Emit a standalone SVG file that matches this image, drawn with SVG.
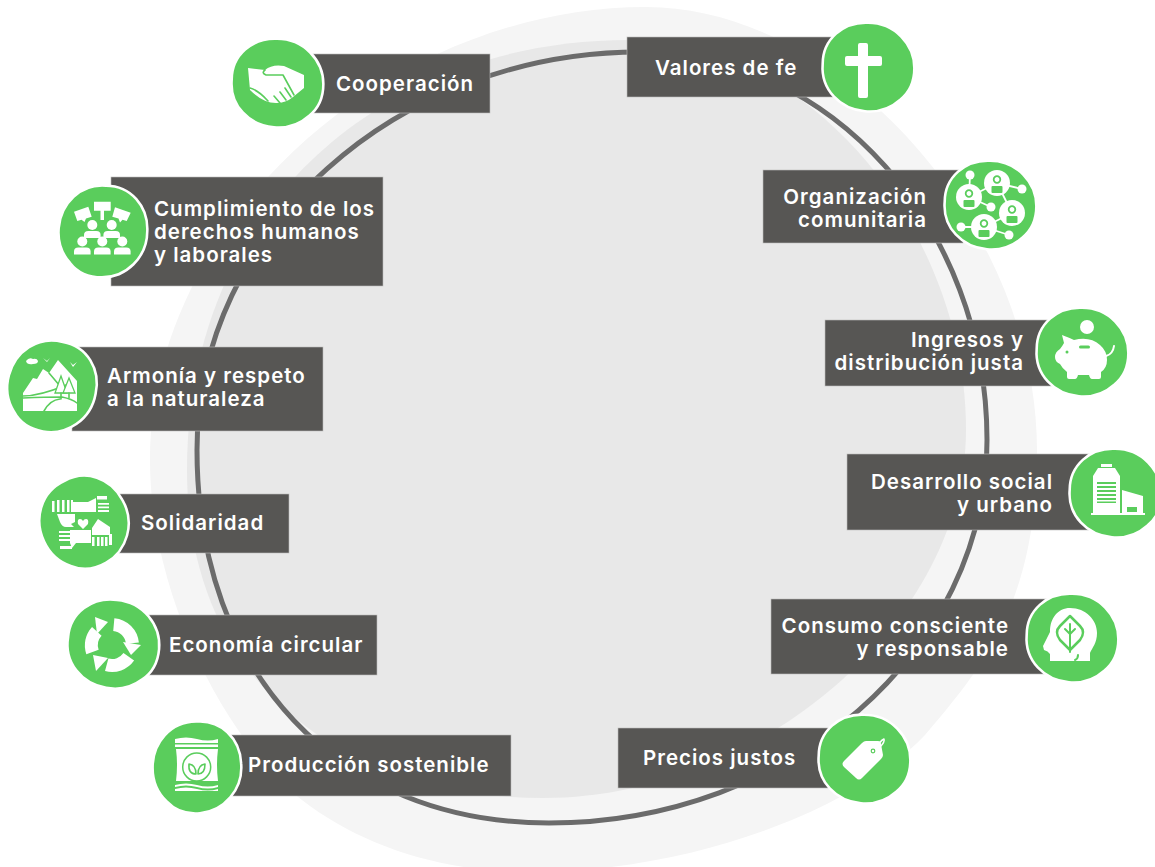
<svg xmlns="http://www.w3.org/2000/svg" width="1155" height="867" viewBox="0 0 1155 867">
<style>
.box{fill:#575654;stroke:#bdbdbb;stroke-width:.6}
.blob{fill:#5acd5c;stroke:#fff;stroke-width:2.500}
.i{fill:#fff;stroke:none}
.g{fill:#5acd5c;stroke:none}
.gl{fill:none;stroke:#5acd5c;stroke-width:1.600;stroke-linecap:round;stroke-linejoin:round}
.wl{fill:none;stroke:#fff;stroke-linecap:round;stroke-linejoin:round}
text{font-family:"Inter","Liberation Sans",sans-serif;font-weight:600;font-size:20.500px;fill:#fff;letter-spacing:1px}
.e{text-anchor:end}
</style>
<defs>
<path id="blob" d="M-44,-3C-44,-27 -24,-44 0,-43C26,-43 45,-22 45,1C45,14 40,25 31,32C21,41 8,44 -3,43C-27,41 -46,22 -44,-3Z"/>
<g id="person"><circle cx="0" cy="-6" r="5"/><path d="M-8.300,7V4Q-8.300,0 -4,0H4Q8.300,0 8.300,4V7Z"/></g>
<g id="netp"><circle class="i" r="13"/><circle cx="0" cy="-3.500" r="3.300" fill="none" stroke="#5acd5c" stroke-width="1.800"/><rect x="-5.500" y="3" width="11" height="7" rx="1" class="g"/></g>
</defs>
<g id="background">
<path fill="#f5f5f5" d="M646,7C841,7 1037,228 1037,450C1037,600 985,665 925,735C860,805 700,872 530,872C440,872 360,845 302,800C230,745 150,600 150,460C150,220 390,7 646,7Z"/>
<path fill="#e8e8e8" d="M629,40C810,40 966,230 966,430C966,620 760,798 543,798C340,798 187,680 187,470C187,200 390,40 629,40Z"/>
</g>
<g id="connectors">
<path fill="none" stroke="#6b6b6b" stroke-width="5" d="M640,52C831,52 987,227 987,440C987,651 790,823 549,823C338,823 197,674 197,450C197,231 396,52 640,52Z"/>
</g>
<g id="cooperacion">
<rect class="box" x="310" y="54" width="180" height="59"/>
<use href="#blob" class="blob" transform="translate(277,83) scale(1.030)"/>
<path class="i" d="M248,68L265,70Q272,64 284,66L304,75V88L293,97Q286,103 276,103Q263,103 250,90Z"/>
<path class="gl" d="M265,70Q261,73 266,75Q275,75 283,75L294,95M250,88Q258,90 268,101M280,103L274,96M286,100L280,92M291,97L285,88"/>
<text x="336" y="90.500">Cooperación</text>
</g>
<g id="valores">
<rect class="box" x="627" y="37" width="210" height="60"/>
<use href="#blob" class="blob" transform="translate(868,67) scale(1.030)"/>
<path class="i" d="M858,45Q858,43 860,43H866Q868,43 868,45V56H880Q882,56 882,58V64Q882,66 880,66H868V96Q868,98 866,98H860Q858,98 858,96V66H847Q845,66 845,64V58Q845,56 847,56H858Z"/>
<text x="655" y="74.500">Valores de fe</text>
</g>
<g id="organizacion">
<rect class="box" x="763" y="170" width="200" height="73"/>
<use href="#blob" class="blob" transform="translate(990,205) scale(1.030)"/>
<path class="wl" stroke-width="1.800" d="M970,175L969,197M997,183L1022,189M969,197L997,183M997,183L1012,213M969,197L991,207M984,227L1012,213M961,227L984,227M984,227L1009,235"/>
<g class="i"><circle cx="970" cy="175" r="4.500"/><circle cx="1022" cy="189" r="4.500"/><circle cx="991" cy="207" r="4.500"/><circle cx="961" cy="227" r="4.500"/><circle cx="1009" cy="235" r="4.500"/></g>
<use href="#netp" x="969" y="197"/><use href="#netp" x="997" y="183"/><use href="#netp" x="1012" y="213"/><use href="#netp" x="984" y="227"/>
<text class="e" x="927" y="203.500">Organización</text>
<text class="e" x="927" y="226.500">comunitaria</text>
</g>
<g id="ingresos">
<rect class="box" x="825" y="320" width="230" height="66"/>
<use href="#blob" class="blob" transform="translate(1082,352) scale(1.030)"/>
<circle class="i" cx="1087" cy="327" r="7"/>
<path class="i" d="M1062,335Q1070,338 1074,340Q1090,336 1100,345Q1107,351 1107,360Q1107,368 1101,372V377Q1101,379 1099,379H1092Q1090,379 1089,375H1078Q1077,379 1075,379H1069Q1067,379 1067,377V372Q1062,368 1060,364Q1055,362 1055,357Q1055,352 1060,349Q1063,345 1064,343Z"/>
<path class="wl" stroke-width="2" d="M1106,356Q1113,354 1114,346"/>
<rect class="g" x="1079" y="345.500" width="11" height="3" rx="1.500"/><circle class="g" cx="1067" cy="352" r="1.500"/>
<text class="e" x="1024" y="346.500">Ingresos y</text>
<text class="e" x="1024" y="369.500">distribución justa</text>
</g>
<g id="desarrollo">
<rect class="box" x="847" y="454" width="245" height="76"/>
<use href="#blob" class="blob" transform="translate(1115,493) scale(1.030)"/>
<path class="i" d="M1101,464H1112V467H1101ZM1098,468H1115L1120,476V513H1093V476ZM1122,490L1143,496V513H1122ZM1091,513H1145V515H1091Z"/>
<path class="g" d="M1097,482h19v2h-19zM1097,486h19v2h-19zM1097,490h19v2h-19zM1097,494h19v2h-19zM1097,498h19v2h-19zM1097,501.500h19v1.500h-19zM1127,507h10v5h-10z"/>
<text class="e" x="1053" y="488.500">Desarrollo social</text>
<text class="e" x="1053" y="511.500">y urbano</text>
</g>
<g id="consumo">
<rect class="box" x="771" y="599" width="276" height="75"/>
<use href="#blob" class="blob" transform="translate(1072,638) scale(1.030)"/>
<path class="i" d="M1070,608C1086,608 1097,620 1097,633C1097,643 1092,648 1090,653V661H1050V654Q1048,651 1044,650L1043,646L1050,632C1050,618 1058,608 1070,608Z"/>
<path class="gl" style="stroke-width:2.500" d="M1070,616L1080,626Q1086,632 1080,640L1070,650L1060,640Q1054,632 1060,626Z"/>
<path class="gl" style="stroke-width:2" d="M1070,624V652M1065,629L1070,634L1075,629M1075,660Q1078,659 1078,655"/>
<text class="e" x="1009" y="632.500">Consumo consciente</text>
<text class="e" x="1009" y="655.500">y responsable</text>
</g>
<g id="precios">
<rect class="box" x="618" y="728" width="215" height="60"/>
<use href="#blob" class="blob" transform="translate(864,759) scale(1.030)"/>
<path class="i" d="M844,761L862,743Q864,741 866,741H878Q881,741 881,744L883,755Q883,757 881,759L862,778Q859,781 856,778L844,767Q841,764 844,761Z"/>
<circle cx="873" cy="751" r="1.800" fill="#fff" stroke="#5acd5c" stroke-width="1.200"/>
<path class="wl" stroke-width="1.500" d="M876,748Q880,741 884,739Q885,742 880,747"/>
<text x="643" y="764.500">Precios justos</text>
</g>
<g id="produccion">
<rect class="box" x="228" y="735" width="283" height="61"/>
<use href="#blob" class="blob" transform="translate(197,767) rotate(85) scale(1.030)"/>
<path class="i" d="M175,739Q186,736 197,739Q208,742 218,739V743H175ZM175,744.500H218V747H175ZM176,749H218Q216,765 218,781H176Q178,765 176,749ZM175,785Q186,782 197,785Q208,788 218,785V787Q208,790 197,787Q186,784 175,787ZM175,789Q186,786 197,789Q208,792 218,789V791H175Z"/>
<circle cx="196.700" cy="767" r="14" fill="none" stroke="#5acd5c" stroke-width="1.500"/>
<path class="gl" style="stroke-width:1.600" d="M196,774Q188,774 189,764Q196,765 196,774ZM198,774Q205,774 205,764Q198,765 198,774Z"/>
<text x="248" y="771.500">Producción sostenible</text>
</g>
<g id="economia">
<rect class="box" x="148" y="615" width="229" height="60"/>
<use href="#blob" class="blob" transform="translate(113,644) rotate(5) scale(1.030)"/>
<path class="wl" stroke-width="13" style="stroke-linecap:butt" d="M92.500,652A20.500,20.500 0 0 1 96.800,631.300M113.800,624.600A20.500,20.500 0 0 1 132.400,643.200M128.800,656.800A20.500,20.500 0 0 1 106.700,664.800"/>
<g class="i">
<path d="M95,617L108,622L97,634Z"/>
<path d="M141,645L123,642L131,655Z"/>
<path d="M93,655L96,671L108,658Z"/>
</g>
<text x="169" y="651.500">Economía circular</text>
</g>
<g id="solidaridad">
<rect class="box" x="118" y="494" width="171" height="59"/>
<use href="#blob" class="blob" transform="translate(84,522) rotate(60) scale(1.030)"/>
<g class="i">
<path d="M73,502H88L96,498V512H73ZM97,496h10v3.500h-10zM98,503h11v1.800h-11zM98,506.500h11v1.800h-11zM98,510h11v2h-11z"/>
<path d="M52,501h2.500v11h-2.500zM57,500h2.500v12h-2.500zM62,500h2.500v12h-2.500zM67,500h2.500v12h-2.500zM71,500h2v12h-2zM57,514H75V522L71,524L74,527H66Q62,527 60,522Z"/>
<path d="M75,530H91V543H76L72,548L70,543V530ZM59,531h11v2h-11zM59,535h11v2h-11zM59,539h11v2h-11zM60,546h12v3h-12z"/>
<path d="M98,519L110,527V535H92V528ZM92,537h2.500v9h-2.500zM97,537h2.500v9h-2.500zM101,537h2.500v9h-2.500zM105,537h2.500v9h-2.500zM109,534h3v11h-3z"/>
<path d="M83,529L78,524Q77,519 80,519Q82,519 83,521Q84,519 86,519Q89,519 88,524Z"/>
</g>
<text x="141" y="529.500">Solidaridad</text>
</g>
<g id="armonia">
<rect class="box" x="72" y="347" width="251" height="84"/>
<use href="#blob" class="blob" transform="translate(52,386) rotate(100) scale(1.030)"/>
<path class="i" d="M23,393L33,378L37,379L43,369L49,373L58,360L77,381V411H23Z"/>
<path class="i" d="M26,361Q29,357 33,359Q37,358 38,361Q38,364 33,364Q27,365 26,361ZM43,358L47,361L50,358L47,362ZM70,362L73,365L77,362L73,367Z"/>
<path class="gl" d="M23,396Q40,396 66,385M23,398Q46,397 62,397Q72,399 77,403M44,411Q50,400 60,399M49,373L60,386"/>
<path d="M61,376L67,393H55Z" fill="#fff" stroke="#5acd5c" stroke-width="1.300"/>
<path d="M69,378L75,393H63Z" fill="#fff" stroke="#5acd5c" stroke-width="1.300"/>
<path class="gl" d="M61,393V399M69,393V398"/>
<text x="107" y="383">Armonía y respeto</text>
<text x="107" y="406">a la naturaleza</text>
</g>
<g id="cumplimiento">
<rect class="box" x="111" y="177" width="272" height="109"/>
<use href="#blob" class="blob" transform="translate(103,231) rotate(90) scale(1.030)"/>
<g class="i">
<path d="M94,201.700H110.700V210.700H104V220H100.500V210.700H94Z"/>
<path d="M74,211.700L88.300,206.700L91.700,216.700L86,218.500L84.500,222L81.500,219.700L77.300,221Z"/>
<path d="M115,207.300L130.700,212.700L126.700,221L122.500,219.700L120,222.500L118.500,218.500L112.300,216.700Z"/>
<use href="#person" x="92.300" y="231"/><use href="#person" x="111.700" y="231"/>
<use href="#person" x="82.300" y="247.500"/><use href="#person" x="102.300" y="247.500"/><use href="#person" x="122.300" y="247.500"/>
</g>
<text x="154" y="215.500">Cumplimiento de los</text>
<text x="154" y="238.500">derechos humanos</text>
<text x="154" y="261.500">y laborales</text>
</g>
</svg>
